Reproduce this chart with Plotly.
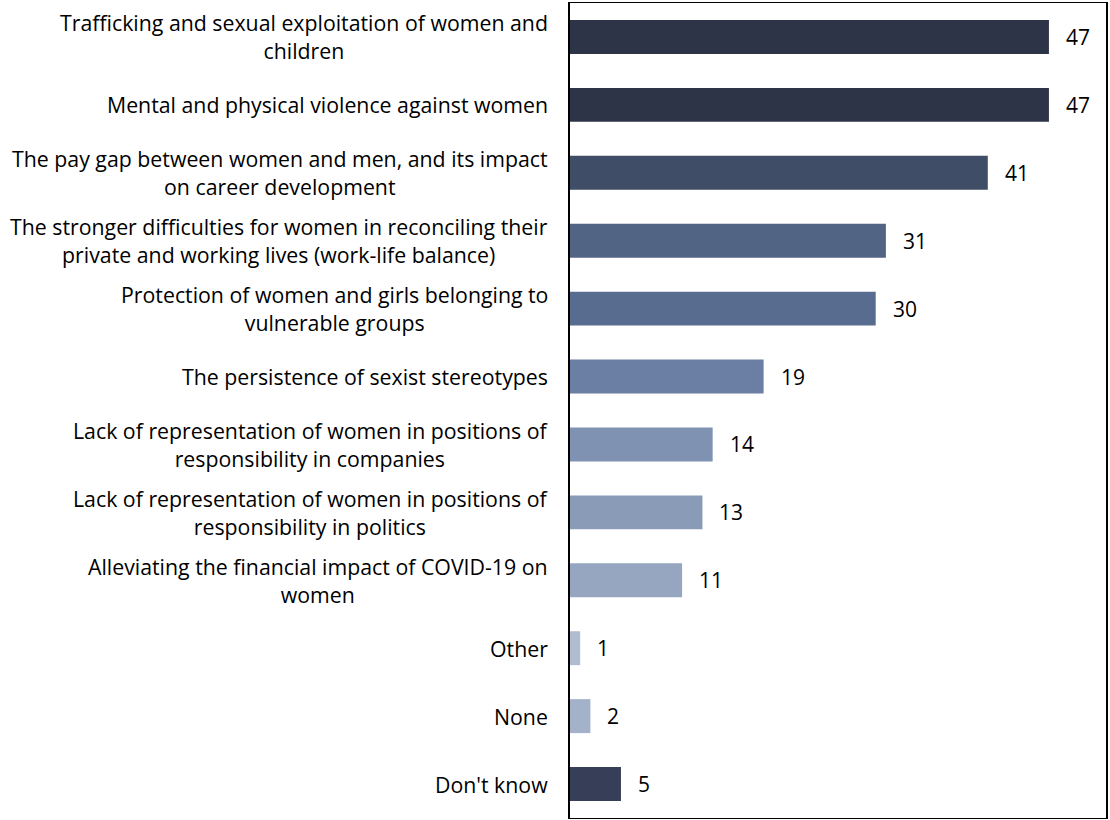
import plotly.graph_objects as go

categories = [
    "Trafficking and sexual exploitation of women and<br>children",
    "Mental and physical violence against women",
    "The pay gap between women and men, and its impact<br>on career development",
    "The stronger difficulties for women in reconciling their<br>private and working lives (work-life balance)",
    "Protection of women and girls belonging to<br>vulnerable groups",
    "The persistence of sexist stereotypes",
    "Lack of representation of women in positions of<br>responsibility in companies",
    "Lack of representation of women in positions of<br>responsibility in politics",
    "Alleviating the financial impact of COVID-19 on<br>women",
    "Other",
    "None",
    "Don't know",
]
values = [47, 47, 41, 31, 30, 19, 14, 13, 11, 1, 2, 5]
colors = [
    "#2D3447", "#2D3447", "#3F4D66", "#516484", "#586C90", "#6A7FA3",
    "#7F92B1", "#8A9BB8", "#97A6C0", "#B0BDD1", "#A3B1C9", "#363F57",
]

FONT = "Open Sans"

fig = go.Figure(
    go.Bar(
        x=values,
        y=categories,
        orientation="h",
        marker=dict(color=colors, line=dict(width=0)),
        width=0.5,
        hoverinfo="skip",
    )
)

annotations = []
for cat, val in zip(categories, values):
    annotations.append(dict(
        x=0, xref="paper", y=cat, yref="y",
        text=cat, showarrow=False, xanchor="right", align="center",
        xshift=-20, font=dict(family=FONT, size=21.3, color="#000000"),
    ))
    annotations.append(dict(
        x=val, xref="x", y=cat, yref="y",
        text=str(val), showarrow=False, xanchor="left",
        xshift=15, font=dict(family=FONT, size=21, color="#000000"),
    ))

fig.update_layout(
    width=1110, height=820,
    margin=dict(l=570, r=2, t=2, b=2),
    paper_bgcolor="white", plot_bgcolor="white",
    showlegend=False,
    annotations=annotations,
    xaxis=dict(range=[0, 52.6], showgrid=False, zeroline=False,
               showticklabels=False, ticks="", showline=True, mirror=True,
               linecolor="#000000", linewidth=1),
    yaxis=dict(categoryorder="array", categoryarray=categories,
               autorange="reversed", showgrid=False, showticklabels=False,
               ticks="", showline=True, mirror=True,
               linecolor="#000000", linewidth=2, zeroline=False),
    bargap=0.5,
)

fig.write_html("out.html", config={"displayModeBar": False},
               post_script="document.body.style.margin='0';document.body.style.overflow='hidden';")
